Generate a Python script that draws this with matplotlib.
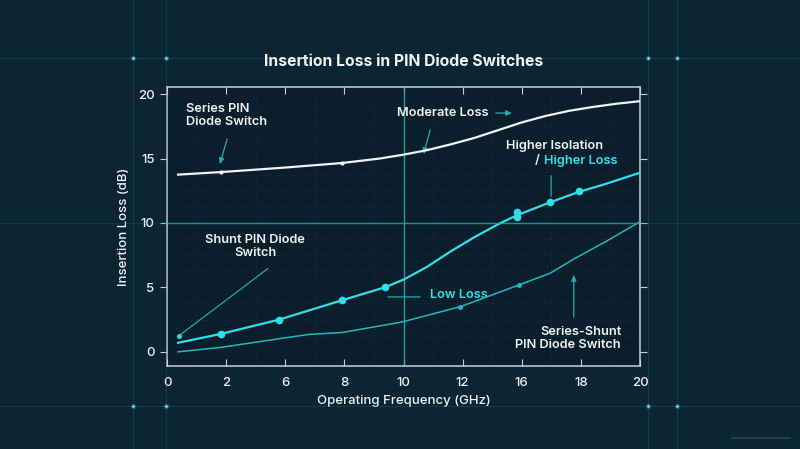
import numpy as np
import matplotlib
matplotlib.use("Agg")
import matplotlib.pyplot as plt
from matplotlib.lines import Line2D

plt.rcParams['font.family'] = ['Inter', 'Roboto', 'DejaVu Sans']

# -----------------------------
# DATA
# -----------------------------
tick_pos = [0, 2.5, 5, 7.5, 10, 12.5, 15, 17.5, 20]
tick_labels = ["0", "2", "6", "8", "10", "12", "16", "18", "20"]

series_x = [0.47, 2.3, 5, 7.4, 9, 10, 11, 12, 13, 14, 15, 16, 17, 18, 19, 20]
series_y = [13.75, 13.95, 14.3, 14.65, 15.0, 15.3, 15.65, 16.1, 16.6, 17.2, 17.8, 18.3, 18.7, 19.0, 19.25, 19.45]
series_mx = [2.3, 7.4]
series_my = [13.95, 14.65]

shunt_x = [0.47, 2.3, 4.74, 7.4, 9.2, 10, 11, 12, 13, 14, 14.8, 16.2, 17.4, 18.5, 20]
shunt_y = [0.7, 1.4, 2.5, 4.0, 5.0, 5.6, 6.6, 7.8, 8.9, 9.9, 10.6, 11.6, 12.4, 13.0, 13.9]
shunt_mx = [2.3, 4.74, 7.4, 9.2, 14.8, 14.8, 16.2, 17.4]
shunt_my = [1.4, 2.5, 4.0, 5.0, 10.85, 10.5, 11.6, 12.5]

combo_x = [0.47, 2.3, 4.86, 6, 7.4, 9.9, 12.4, 14.9, 16.2, 17.2, 18.5, 20]
combo_y = [0.0, 0.35, 1.05, 1.35, 1.5, 2.3, 3.5, 5.2, 6.1, 7.2, 8.5, 10.1]
combo_mx = [12.4, 14.9]
combo_my = [3.5, 5.2]

BG = "#0c2533"
AX_BG = "#0a1f2b"
WHITE = "#eef3f4"
CYAN = "#2fe0ea"
TEAL = "#22b8c2"
ANN = "#2aa8b2"

fig = plt.figure(figsize=(8, 4.49), dpi=100, facecolor=BG)

# decorative glow lines on the background
for yy in [1 - 58 / 449, 1 - 406 / 449]:
    fig.add_artist(Line2D([0, 1], [yy, yy], color="#1a6f78", lw=0.7, alpha=0.35))
for xx in [133 / 800, 166 / 800, 648 / 800, 677 / 800]:
    fig.add_artist(Line2D([xx, xx], [0, 1], color="#1a6f78", lw=0.7, alpha=0.3))
    for yy in [1 - 58 / 449, 1 - 406 / 449]:
        fig.add_artist(Line2D([xx], [yy], marker="o", ms=4, color="#3fe6f0", alpha=0.25, mew=0))
        fig.add_artist(Line2D([xx], [yy], marker="o", ms=1.8, color="#8ff7ff", mew=0))
fig.add_artist(Line2D([0, 1], [1 - 223 / 449] * 2, color="#1a6f78", lw=0.6, alpha=0.3))
fig.add_artist(Line2D([732 / 800, 790 / 800], [1 - 438 / 449] * 2, color="#1f6a74", lw=1.2, alpha=0.6))

ax = fig.add_axes([167 / 800, 1 - 366 / 449, 473 / 800, 279 / 449])
ax.set_facecolor(AX_BG)

# -----------------------------
# CURVES
# -----------------------------
ax.plot(series_x, series_y, color=WHITE, lw=1.6, zorder=4)
ax.plot(series_mx, series_my, "o", color=WHITE, ms=2, zorder=5)

ax.plot(shunt_x, shunt_y, color=CYAN, lw=1.6, zorder=4)
ax.plot(shunt_mx, shunt_my, "o", color=CYAN, ms=4.5, zorder=5)

ax.plot(combo_x, combo_y, color=TEAL, lw=1.1, zorder=4)
ax.plot(combo_mx, combo_my, "o", color=TEAL, ms=2.5, zorder=5)

# reference lines
ax.axvline(10, color="#25a9b3", lw=1.0, alpha=0.9, zorder=2)
ax.axhline(10, color="#25a9b3", lw=1.0, alpha=0.9, zorder=2)

ax.set_xlim(0, 20)
ax.set_ylim(-1.1, 20.55)
ax.set_xticks(tick_pos)
ax.set_xticklabels(tick_labels)
ax.set_yticks([0, 5, 10, 15, 20])
ax.set_xticks(np.arange(0, 20.1, 1.25), minor=True)
ax.set_yticks(np.arange(0, 20.1, 1.25), minor=True)
ax.grid(which="minor", color="#2a4a58", ls=(0, (1, 3)), lw=0.6, alpha=0.6)
ax.tick_params(which="minor", length=0)
ax.tick_params(which="major", colors="#c8d0d4", labelcolor=WHITE, labelsize=9.5,
               direction="in", length=5, top=True, right=True)
ax.tick_params(axis="x", pad=8)
ax.tick_params(axis="y", direction="out", pad=4)
for lbl in ax.get_xticklabels() + ax.get_yticklabels():
    lbl.set_fontweight("medium")
for s in ax.spines.values():
    s.set_color("#c8d0d4")
    s.set_linewidth(1.1)

ax.set_xlabel("Operating Frequency (GHz)", color=WHITE, fontsize=9.5, fontweight="medium", labelpad=4)
ax.set_ylabel("Insertion Loss (dB)", color=WHITE, fontsize=9.5, fontweight="medium", labelpad=6)
fig.text(0.505, 1 - 61 / 449, "Insertion Loss in PIN Diode Switches", color=WHITE,
         fontsize=11.3, fontweight="bold", ha="center", va="center")

# -----------------------------
# ANNOTATIONS
# -----------------------------
tkw = dict(color=WHITE, fontsize=9.2, fontweight="semibold", va="center")
akw = dict(arrowstyle="-|>,head_length=0.35,head_width=0.15", color=ANN, lw=0.9)
lkw = dict(arrowstyle="-", color=ANN, lw=0.9)

ax.text(0.8, 18.35, "Series PIN\nDiode Switch", ha="left", linespacing=1.1, **tkw)
ax.annotate("", xy=(2.2, 14.35), xytext=(2.58, 16.74), arrowprops=akw)

ax.text(9.73, 18.53, "Moderate Loss", ha="left", **tkw)
ax.annotate("", xy=(14.71, 18.53), xytext=(13.78, 18.53), arrowprops=akw)
ax.annotate("", xy=(10.82, 15.12), xytext=(11.16, 17.44), arrowprops=akw)

ax.text(16.4, 15.97, "Higher Isolation", ha="center", **tkw)
ax.text(15.55, 14.8, "/", ha="left", **tkw)
ax.text(15.94, 14.8, "Higher Loss", ha="left",
        **{**tkw, "color": CYAN})
ax.annotate("", xy=(16.24, 11.85), xytext=(16.24, 13.88), arrowprops=lkw)

ax.text(3.72, 8.2, "Shunt PIN Diode\nSwitch", ha="center", linespacing=1.1, **tkw)
ax.annotate("", xy=(0.5, 1.24), xytext=(4.36, 6.59), arrowprops=lkw)
ax.plot([0.5], [1.24], "o", color=CYAN, ms=2.5, zorder=5)

ax.text(11.12, 4.42, "Low Loss", ha="left", **{**tkw, "color": CYAN})
ax.annotate("", xy=(10.82, 4.26), xytext=(9.22, 4.26), arrowprops=lkw)

ax.text(19.2, 1.0, "Series-Shunt\nPIN Diode Switch", ha="right", linespacing=1.1,
        multialignment="right", **tkw)
ax.annotate("", xy=(17.2, 6.2), xytext=(17.2, 2.48), arrowprops=akw)

fig.savefig("out.png", dpi=100, facecolor=BG)
